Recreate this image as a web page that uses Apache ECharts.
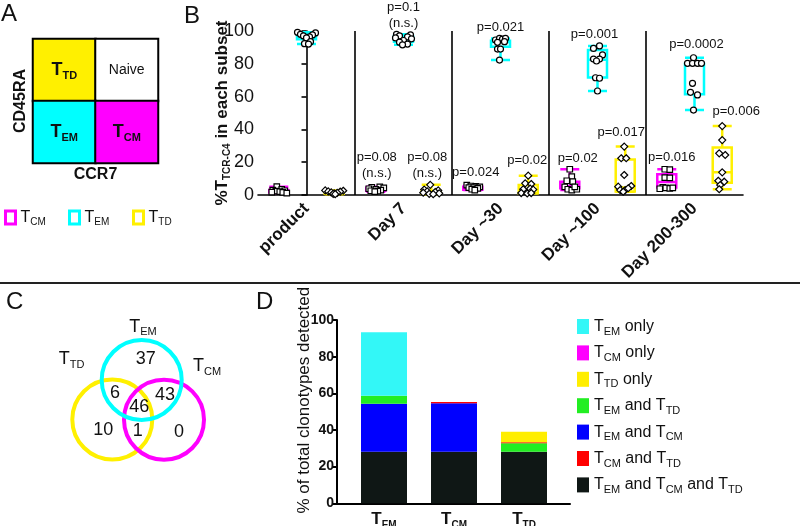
<!DOCTYPE html>
<html><head><meta charset="utf-8">
<script src="https://cdn.jsdelivr.net/npm/echarts@6/dist/echarts.min.js"></script>
<style>html,body{margin:0;padding:0;background:#fff}#c{width:800px;height:526px}</style>
</head><body><div id="c"></div>
<script>
// ---------------- DATA ----------------
// Panel A quadrants: [CCR7 index, CD45RA index, label key]
const ccr7Levels = ['neg', 'pos'];
const cd45raLevels = ['neg', 'pos'];
const quadrants = [[0, 1, 'TTD'], [1, 1, 'Naive'], [0, 0, 'TEM'], [1, 0, 'TCM']];

// Panel B
const timepoints = ['product', 'Day 7', 'Day ~30', 'Day ~100', 'Day 200-300'];
const subsetNames = ['TCM', 'TEM', 'TTD'];
const boxTCM = [[1.2,1.6,2.2,3.0,5.1],[2.0,2.6,3.4,4.4,5.0],[3.0,3.2,4.5,5.1,6.0],[3.0,4.1,5.5,8.1,15.7],[3.8,4.5,8.0,12.6,15.7]];
const boxTEM = [[92.0,95.0,96.8,98.0,99.2],[91.6,93.5,95.5,97.0,98.0],[82.3,90.4,93.3,94.1,95.5],[63.4,71.7,82.5,88.4,90.9],[51.8,61.4,79.5,80.0,83.7]];
const boxTTD = [[0.5,0.8,1.3,2.0,2.8],[0.5,0.8,1.5,2.5,6.2],[0.9,1.0,3.3,6.1,11.8],[2.0,2.2,4.5,21.7,29.5],[3.5,7.5,13.8,29.0,42.0]];
const ptsTCM = [
  [5.1,3.4,3.0,2.6,2.4,2.0,1.8,1.6,1.2],
  [5.0,4.6,4.4,3.8,3.4,3.0,2.6,2.4,2.0],
  [6.0,5.5,5.2,5.0,4.5,4.5,4.0,3.5,3.0],
  [15.7,11.2,8.7,8.1,5.0,3.5,3.0,3.5,5.0],
  [15.7,15.5,10.6,10.4,4.6,4.3,4.0,4.4,3.8]];
const jitTCM = [
  [-2,3,-6,6,-3,1,-7,4,8],
  [4,-4,8,-7,0,5,-5,2,-1],
  [-6,-2,3,7,-4,1,5,-1,2],
  [0,2,-3,3,-5,-2,2,7,5],
  [-2,3,-2,3,-4,-1,3,6,-7]];
const ptsTEM = [
  [99.2,98.8,98.0,97.6,97.0,96.4,95.8,93.5,92.3,92.0],
  [98.0,97.6,97.0,96.4,95.8,95.2,94.2,93.2,92.0,91.6],
  [94.5,95.5,95.1,95.5,93.1,93.5,89.0,89.0,82.3],
  [89.4,90.9,85.4,82.9,82.9,81.7,71.5,71.2,63.4],
  [83.7,80.3,80.3,80.3,80.3,68.1,62.6,61.0,51.8]];
const jitTEM = [
  [-9,9,-6,6,-3,3,0,4,-2,2],
  [-7,7,-4,4,-8,8,0,-4,4,-1],
  [-5,-1,2,5,-3,4,-3,0,-1],
  [-4,2,5,2,-4,-1,-2,2,0],
  [-1,-7,-2,3,7,-2,-4,3,-1]];
const ptsTTD = [
  [2.8,2.6,2.2,2.0,1.6,1.3,1.0,0.7,0.5],
  [6.2,3.3,2.8,2.2,1.8,1.4,1.0,0.7,0.5],
  [11.8,7.1,6.7,3.5,3.9,3.3,1.2,0.9,1.2],
  [29.5,22.4,22.4,12.2,5.1,5.5,3.0,3.0,4.1,2.0],
  [42.0,33.5,25.4,24.4,13.8,8.7,8.1,6.1,3.5]];
const jitTTD = [
  [-9,9,-6,6,-3,3,0,-1,1],
  [-1,-7,7,-4,4,-8,8,-2,2],
  [0,-3,3,-5,2,5,-7,-1,3],
  [-1,-4,1,-1,-7,6,-5,0,3,-2],
  [0,0,-3,3,0,-4,2,-2,-3]];
// [timepoint, subset, text, value at label centre, horizontal nudge px]
const pLabels = [
  [1,0,'p=0.08\n(n.s.)',18.3,1],[1,1,'p=0.1\n(n.s.)',109.8,0],[1,2,'p=0.08\n(n.s.)',18.3,-4],
  [2,0,'p=0.024',14.0,3],[2,1,'p=0.021',102.4,0],[2,2,'p=0.02',21.3,-1],
  [3,0,'p=0.02',22.6,8],[3,1,'p=0.001',98.2,-3],[3,2,'p=0.017',38.4,-4],
  [4,0,'p=0.016',23.2,5],[4,1,'p=0.0002',92.1,2],[4,2,'p=0.006',51.2,14]];
const bTicks = [0, 20, 40, 60, 80, 100];

// Panel C (Venn)
const vennSets = ['TTD', 'TCM', 'TEM'];
const vennCentres = [[112.3,136.5],[164,136.7],[141.7,97]];
const vennSetLabelPos = [[71.7,76],[207,83],[143,43.7]];
const vennCounts = [37, 6, 43, 46, 10, 1, 0];
const vennCountPos = [[145.7,76],[115,109.7],[165,112],[139.3,124.3],[103.3,147],[137.7,148],[179,148.7]];

// Panel D
const dCats = ['TEM', 'TCM', 'TTD'];
const dStackNames = ['TEM and TCM and TTD','TEM and TCM','TEM and TTD','TCM and TTD','TTD only','TCM only','TEM only'];
const dAll3   = [28.1, 28.1, 28.1];
const dEmCm   = [26.2, 26.5, 0];
const dEmTd   = [4.4, 0, 4.6];
const dCmTd   = [0, 0.7, 0.6];
const dTdOnly = [0, 0, 5.8];
const dCmOnly = [0, 0, 0];
const dEmOnly = [34.6, 0, 0];
const dLegendOrder = ['TEM only','TCM only','TTD only','TEM and TTD','TEM and TCM','TCM and TTD','TEM and TCM and TTD'];

// ---------------- STYLE ----------------
const FONT = 'Arial, "Liberation Sans", Helvetica, sans-serif';
const INK = '#111111';
const CYAN = '#00FFFF', MAGENTA = '#FF00FF', YELLOW = '#FFF000';
const subColors = {TCM: MAGENTA, TEM: CYAN, TTD: YELLOW};
const dColors = {'TEM and TCM and TTD':'#0F1715','TEM and TCM':'#0000FF','TEM and TTD':'#22EE22','TCM and TTD':'#FF0000','TTD only':'#FFEE00','TCM only':'#FF00FF','TEM only':'#33F7F7'};

function subT(key, m, s) {
  if (key.length > 1 && key[0] === 'T') return '{' + m + '|T}{' + s + '|' + key.slice(1) + '}';
  return '{' + m + '|' + key + '}';
}
function richPhrase(name, m, s) {
  return name.split(' ').map(w => (/^T(EM|CM|TD)$/.test(w) ? subT(w, m, s) : '{' + m + '|' + w + '}')).join('{' + m + '| }');
}
function subStyles(size, subSize, bold, shift) {
  const w = bold ? 'bold' : 'normal';
  return {
    m: {fontSize: size, fontWeight: w, color: INK, fontFamily: FONT, lineHeight: size + 2},
    s: {fontSize: subSize, fontWeight: w, color: INK, fontFamily: FONT, lineHeight: subSize, padding: [shift, 0, 0, 0]}
  };
}

const BAND_OFF = 0.2858;   // boxplot side offset (category units) for 3 grouped series
const PX_UNIT = 1 / 97;    // px -> category units in panel B

const chart = echarts.init(document.getElementById('c'), null, {renderer: 'canvas'});

const boxes = [boxTCM, boxTEM, boxTTD];
const pts = [ptsTCM, ptsTEM, ptsTTD];
const jits = [jitTCM, jitTEM, jitTTD];
const symbols = ['rect', 'circle', 'diamond'];
const symSizes = [5.5, 6, 7];
const series = [];
subsetNames.forEach((nm, k) => {
  series.push({
    type: 'boxplot', name: nm, xAxisIndex: 1, yAxisIndex: 1, boxWidth: [19, 19],
    data: boxes[k],
    itemStyle: {color: 'rgba(255,255,255,0)', borderColor: subColors[nm], borderWidth: 2.5},
    emphasis: {disabled: true}, silent: true, z: 2
  });
});
subsetNames.forEach((nm, k) => {
  const d = [];
  pts[k].forEach((arr, t) => arr.forEach((v, j) => d.push([t + (k - 1) * BAND_OFF + jits[k][t][j] * PX_UNIT, v])));
  series.push({
    type: 'scatter', name: nm + ' points', xAxisIndex: 2, yAxisIndex: 1, data: d,
    symbol: symbols[k], symbolSize: symSizes[k], clip: false, silent: true, z: 4,
    itemStyle: {color: '#ffffff', borderColor: '#000', borderWidth: 1.2, opacity: 1}
  });
});
series.push({
  type: 'scatter', name: 'pvals', xAxisIndex: 2, yAxisIndex: 1, clip: false, silent: true, symbolSize: 0, z: 5,
  itemStyle: {opacity: 1},
  data: pLabels.map(p => ({value: [p[0] + (p[1] - 1) * BAND_OFF + p[4] * PX_UNIT, p[3]], label: {formatter: p[2]}})),
  label: {show: true, position: 'inside', fontSize: 13, color: INK, fontFamily: FONT, lineHeight: 16}
});
series.push({
  type: 'scatter', name: 'separators', xAxisIndex: 2, yAxisIndex: 1, data: [], silent: true,
  markLine: {silent: true, symbol: 'none', label: {show: false}, animation: false,
    lineStyle: {color: '#000', type: 'solid', width: 1.6},
    data: [0.5, 1.5, 2.5, 3.5].map(x => ({xAxis: x}))}
});

// Panel A heatmap
const heatIndex = series.length;
series.push({
  type: 'heatmap', name: 'quadrants', xAxisIndex: 0, yAxisIndex: 0, silent: true,
  data: quadrants.map((q, i) => ({value: [q[0], q[1], i], label: {formatter: q[2] === 'Naive' ? '{n|Naive}' : subT(q[2], 'm', 's')}})),
  itemStyle: {borderColor: '#000', borderWidth: 2},
  label: {show: true, rich: Object.assign({n: {fontSize: 14, color: INK, fontFamily: FONT}}, subStyles(18, 11, true, 12))}
});

// Panel C venn
series.push({
  type: 'scatter', name: 'venn', xAxisIndex: 3, yAxisIndex: 2, silent: true, clip: false, symbolSize: 80,
  data: vennSets.map((s, i) => ({value: vennCentres[i], itemStyle: {borderColor: subColors[s]}})),
  itemStyle: {color: 'rgba(255,255,255,0)', borderWidth: 4, opacity: 1}, z: 2
});
series.push({
  type: 'scatter', name: 'vennText', xAxisIndex: 3, yAxisIndex: 2, silent: true, clip: false, symbolSize: 0, z: 3,
  itemStyle: {opacity: 1},
  data: vennCounts.map((c, i) => ({value: vennCountPos[i], label: {formatter: '{m|' + c + '}'}}))
    .concat(vennSets.map((s, i) => ({value: vennSetLabelPos[i], label: {formatter: subT(s, 'm', 's')}}))),
  label: {show: true, position: 'inside', rich: subStyles(18, 11, false, 11)}
});

// Panel D stacked bars
const dVals = [dAll3, dEmCm, dEmTd, dCmTd, dTdOnly, dCmOnly, dEmOnly];
dStackNames.forEach((nm, i) => {
  series.push({
    type: 'bar', name: nm, stack: 'd', xAxisIndex: 5, yAxisIndex: 4, barWidth: 46,
    data: dVals[i], itemStyle: {color: dColors[nm]}, silent: true
  });
});

const legendA = subsetNames.map((nm, i) => ({
  data: [{name: nm, itemStyle: {color: 'rgba(255,255,255,0)', borderColor: subColors[nm], borderWidth: 3}}],
  left: [4, 68, 132][i], top: 208, icon: 'rect', itemWidth: 10, itemHeight: 13, itemGap: 0, selectedMode: false,
  formatter: n => subT(n, 'm', 's'), textStyle: {rich: subStyles(16, 10, false, 9)}, padding: 0
}));
const legendD = {
  data: dLegendOrder.map(n => ({name: n})), orient: 'vertical', left: 577, top: 316,
  icon: 'rect', itemWidth: 12, itemHeight: 15, itemGap: 5.4, selectedMode: false, padding: 0,
  formatter: n => richPhrase(n, 'm', 's'), textStyle: {rich: subStyles(16, 11, false, 10)}
};

const noOuter = {outerBoundsMode: 'none', containLabel: false};
const option = {
  animation: false,
  backgroundColor: '#ffffff',
  textStyle: {fontFamily: FONT, color: INK},
  title: [
    {text: 'A', left: 1, top: 2},
    {text: 'B', left: 184, top: 4},
    {text: 'C', left: 6, top: 290},
    {text: 'D', left: 256, top: 290}
  ].map(t => Object.assign(t, {padding: 0, textStyle: {fontSize: 24, fontWeight: 'normal', color: INK, fontFamily: FONT}})),
  graphic: [{type: 'line', shape: {x1: 0, y1: 283, x2: 800, y2: 283}, style: {stroke: '#222', lineWidth: 2}, silent: true}],
  legend: legendA.concat([legendD]),
  visualMap: {type: 'piecewise', show: false, seriesIndex: heatIndex, dimension: 2,
    pieces: [{value: 0, color: YELLOW}, {value: 1, color: '#ffffff'}, {value: 2, color: CYAN}, {value: 3, color: MAGENTA}]},
  grid: [
    Object.assign({left: 33, top: 39, width: 125, height: 124}, noOuter),
    Object.assign({left: 258, top: 31, width: 485, height: 164}, noOuter),
    Object.assign({left: 0, top: 283, width: 300, height: 243}, noOuter),
    Object.assign({left: 337, top: 320, width: 233, height: 183.3}, noOuter),
    Object.assign({left: 349, top: 320, width: 210, height: 183.3}, noOuter)
  ],
  xAxis: [
    {gridIndex: 0, type: 'category', data: ccr7Levels, axisLine: {show: false}, axisTick: {show: false}, axisLabel: {show: false},
      name: 'CCR7', nameLocation: 'middle', nameGap: 4, nameMoveOverlap: false,
      nameTextStyle: {fontSize: 16, fontWeight: 'bold', color: INK, verticalAlign: 'top'}},
    {gridIndex: 1, type: 'category', data: timepoints,
      axisLine: {lineStyle: {color: '#000', width: 1.6}}, axisTick: {alignWithLabel: true, length: 5, lineStyle: {color: '#000', width: 1.6}},
      axisLabel: {rotate: 45, fontSize: 17, fontWeight: 'bold', color: INK, margin: 11, interval: 0}},
    {gridIndex: 1, type: 'value', min: -0.5, max: 4.5, show: false},
    {gridIndex: 2, type: 'value', min: 0, max: 300, show: false},
    {gridIndex: 3, type: 'value', min: 0, max: 1, axisLine: {show: true, lineStyle: {color: '#000', width: 2}}, axisTick: {show: false},
      axisLabel: {show: false}, splitLine: {show: false}},
    {gridIndex: 4, type: 'category', data: dCats, axisLine: {show: false}, axisTick: {show: false},
      axisLabel: {interval: 0, formatter: v => subT(v, 'm', 's'), margin: 7, rich: subStyles(17, 10, true, 10)}}
  ],
  yAxis: [
    {gridIndex: 0, type: 'category', data: cd45raLevels, axisLine: {show: false}, axisTick: {show: false}, axisLabel: {show: false},
      name: 'CD45RA', nameLocation: 'middle', nameGap: 4, nameRotate: 90, nameMoveOverlap: false,
      nameTextStyle: {fontSize: 16, fontWeight: 'bold', color: INK}},
    {gridIndex: 1, type: 'value', min: 0, max: 100, interval: 20, splitLine: {show: false},
      axisLine: {show: true, lineStyle: {color: '#000', width: 1.6}}, axisTick: {show: true, length: 5, lineStyle: {color: '#000', width: 1.6}},
      axisLabel: {fontSize: 18, color: INK, margin: 4, formatter: v => (bTicks.indexOf(v) >= 0 ? String(v) : '')},
      name: '{b|%T}{s|TCR-C4}{b| in each subset}', nameLocation: 'middle', nameGap: 26, nameRotate: 90, nameMoveOverlap: false,
      nameTextStyle: {rich: {b: {fontSize: 17, fontWeight: 'bold', color: INK, fontFamily: FONT, lineHeight: 19},
        s: {fontSize: 10, fontWeight: 'bold', color: INK, fontFamily: FONT, lineHeight: 10, padding: [9, 0, 0, 0]}}}},
    {gridIndex: 2, type: 'value', min: 0, max: 243, inverse: true, show: false},
    {gridIndex: 3, type: 'value', min: 0, max: 100, interval: 20, splitLine: {show: false},
      axisLine: {show: true, lineStyle: {color: '#000', width: 2}}, axisTick: {show: true, length: 5, lineStyle: {color: '#000', width: 2}},
      axisLabel: {fontSize: 14, fontWeight: 'bold', color: INK, margin: 3},
      name: '% of total clonotypes detected', nameLocation: 'middle', nameGap: 24, nameRotate: 90, nameMoveOverlap: false,
      nameTextStyle: {fontSize: 17, color: INK, padding: [0, 0, 0, 23]}},
    {gridIndex: 4, type: 'value', min: 0, max: 100, show: false}
  ],
  series: series
};
chart.setOption(option);
</script>
</body></html>
